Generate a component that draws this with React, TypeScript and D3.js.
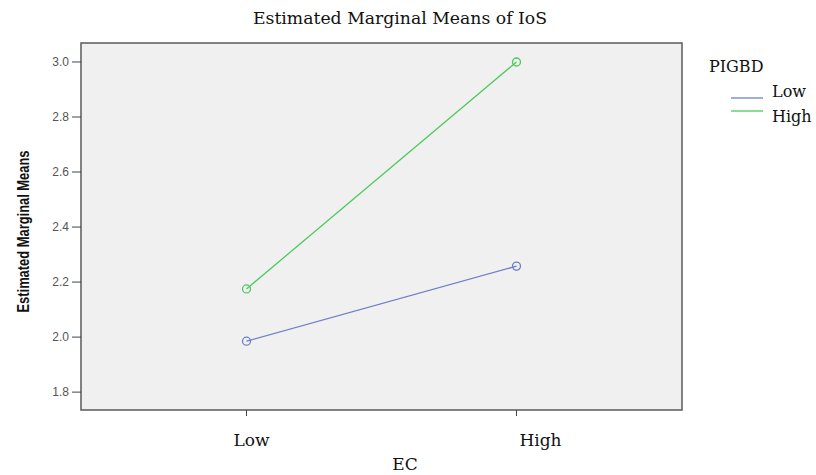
import React from 'react'
import * as d3 from 'd3'

const ecLevels = ['Low', 'High']
const pigbdLevels = ['Low', 'High']
const meansLow = [1.985, 2.258]
const meansHigh = [2.175, 3.0]
const yTicks = [1.8, 2.0, 2.2, 2.4, 2.6, 2.8, 3.0]
const seriesColors = ['#6f7fc8', '#4dc95b']

const WIDTH = 816
const HEIGHT = 475
const margin = { top: 43, right: 134, bottom: 65, left: 81 }
// SPSS nudges the category labels to the right of their ticks
const xLabelShift = [5, 24]

export default function App() {
  const x = d3
    .scalePoint<string>()
    .domain(ecLevels)
    .range([margin.left, WIDTH - margin.right])
    .padding(0.613)

  const y = d3
    .scaleLinear()
    .domain([1.735, 3.069])
    .range([HEIGHT - margin.bottom, margin.top])

  const series = [meansLow, meansHigh]

  const line = d3
    .line<number>()
    .x((d, i) => x(ecLevels[i]) as number)
    .y(d => y(d))

  const plotW = WIDTH - margin.right - margin.left
  const plotH = HEIGHT - margin.bottom - margin.top

  return (
    <svg
      width={WIDTH}
      height={HEIGHT}
      style={{ position: 'absolute', left: 0, top: 0, background: '#fff' }}
    >
      <text
        x={400}
        y={24}
        textAnchor="middle"
        fontFamily="'DejaVu Serif', serif"
        fontSize={17}
        textLength={294}
        lengthAdjust="spacingAndGlyphs"
        fill="#111"
      >
        Estimated Marginal Means of IoS
      </text>

      <rect
        x={margin.left}
        y={margin.top}
        width={plotW}
        height={plotH}
        fill="#f0f0f0"
        stroke="#5a5a5a"
        strokeWidth={1.5}
      />

      {yTicks.map(t => (
        <g key={t} transform={`translate(0,${y(t)})`}>
          <line x1={margin.left - 9} x2={margin.left} stroke="#444" />
          <text
            x={margin.left - 12}
            dy="0.35em"
            textAnchor="end"
            fontFamily="'Liberation Sans', Arial, sans-serif"
            fontSize={12}
            fill="#555"
          >
            {d3.format('.1f')(t)}
          </text>
        </g>
      ))}

      <text
        transform={`translate(29,${(margin.top + HEIGHT - margin.bottom) / 2 + 5}) rotate(-90)`}
        textAnchor="middle"
        fontFamily="'Liberation Sans Narrow', 'Arial Narrow', 'Liberation Sans', sans-serif"
        fontWeight="bold"
        fontSize={17}
        textLength={162}
        lengthAdjust="spacingAndGlyphs"
        fill="#111"
      >
        Estimated Marginal Means
      </text>

      {ecLevels.map((c, i) => (
        <g key={c} transform={`translate(${x(c)},0)`}>
          <line y1={HEIGHT - margin.bottom} y2={HEIGHT - margin.bottom + 6} stroke="#444" />
          <text
            x={xLabelShift[i]}
            y={446}
            textAnchor="middle"
            fontFamily="'DejaVu Serif', serif"
            fontSize={17}
            fill="#111"
          >
            {c}
          </text>
        </g>
      ))}
      <text
        x={405}
        y={470}
        textAnchor="middle"
        fontFamily="'DejaVu Serif', serif"
        fontSize={17}
        fill="#111"
      >
        EC
      </text>

      {series.map((s, si) => (
        <g key={si}>
          <path d={line(s) || ''} fill="none" stroke={seriesColors[si]} strokeWidth={1.3} />
          {s.map((v, i) => (
            <circle
              key={i}
              cx={x(ecLevels[i])}
              cy={y(v)}
              r={4}
              fill="none"
              stroke={seriesColors[si]}
              strokeWidth={1.3}
            />
          ))}
        </g>
      ))}

      <text
        x={709}
        y={72}
        fontFamily="'DejaVu Serif', serif"
        fontSize={16}
        fill="#111"
      >
        PIGBD
      </text>
      {pigbdLevels.map((p, i) => (
        <g key={p} transform={`translate(0,${98 + i * 13})`}>
          <line x1={731} x2={763} stroke={seriesColors[i]} strokeWidth={1.3} />
          <text
            x={772}
            y={i === 0 ? -1 : 11}
            fontFamily="'DejaVu Serif', serif"
            fontSize={16}
            fill="#111"
          >
            {p}
          </text>
        </g>
      ))}
    </svg>
  )
}
